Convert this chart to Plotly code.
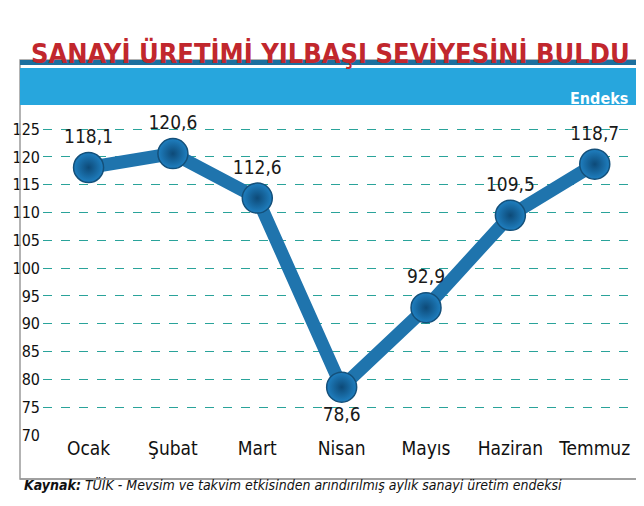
import plotly.graph_objects as go

months = ['Ocak', 'Şubat', 'Mart', 'Nisan', 'Mayıs', 'Haziran', 'Temmuz']
values = [118.1, 120.6, 112.6, 78.6, 92.9, 109.5, 118.7]
labels = ['118,1', '120,6', '112,6', '78,6', '92,9', '109,5', '118,7']
label_pos = ['top center', 'top center', 'top center', 'bottom center',
             'top center', 'top center', 'top center']
yticks = list(range(70, 126, 5))

W, H = 644, 506
L, R, T, B = 35, 10, 100, 79
pw, ph = W - L - R, H - T - B
FONT = 'DejaVu Sans Condensed, Liberation Sans Narrow, sans-serif'


def px_x(p):
    return (p - L) / pw


def px_y(p):
    return (H - B - p) / ph


fig = go.Figure()
fig.add_trace(go.Scatter(
    x=months, y=values, mode='lines+markers+text',
    line=dict(color='#1f74ad', width=13),
    marker=dict(size=30, color='#1f7fc0', line=dict(color='#14507a', width=1.5),
                gradient=dict(type='radial', color='#0d4a78')),
    text=labels, textposition=label_pos,
    textfont=dict(family=FONT, size=19, color='#1a1a1a'),
    cliponaxis=False, hoverinfo='skip'))

shapes = [
    # outer frame
    dict(type='rect', xref='paper', yref='paper', x0=px_x(12), x1=px_x(633),
         y0=px_y(471), y1=px_y(52), line=dict(color='#9a9a9a', width=1.5)),
    # header band
    dict(type='rect', xref='paper', yref='paper', x0=px_x(12), x1=px_x(633),
         y0=px_y(97), y1=px_y(60), fillcolor='#27a6dd', line_width=0),
    dict(type='rect', xref='paper', yref='paper', x0=px_x(12), x1=px_x(633),
         y0=px_y(57), y1=px_y(52), fillcolor='#1c6f9f', line_width=0),
    # source separator
    dict(type='line', xref='paper', yref='paper', x0=px_x(12), x1=px_x(633),
         y0=px_y(471), y1=px_y(471), line=dict(color='#9a9a9a', width=1.5)),
]

annotations = [
    dict(text='<b>SANAYİ ÜRETİMİ YILBAŞI SEVİYESİNİ BULDU</b>', xref='paper', yref='paper',
         x=px_x(322), y=px_y(27), showarrow=False,
         font=dict(family=FONT, size=27, color='#c1272d')),
    dict(text='<b>Endeks</b>', xref='paper', yref='paper', x=px_x(622), y=px_y(79),
         xanchor='right', showarrow=False, font=dict(family=FONT, size=16, color='white')),
    dict(text='<b><i>Kaynak:</i></b><i> TÜİK - Mevsim ve takvim etkisinden arındırılmış aylık sanayi üretim endeksi</i>',
         xref='paper', yref='paper', x=px_x(14), y=px_y(487), xanchor='left', showarrow=False,
         font=dict(family=FONT, size=14, color='#111')),
]

fig.update_layout(
    width=W, height=H, margin=dict(l=L, r=R, t=T, b=B, autoexpand=False),
    paper_bgcolor='white', plot_bgcolor='white', showlegend=False,
    shapes=shapes, annotations=annotations,
    font=dict(family=FONT, color='#111'),
)
fig.update_xaxes(range=[-0.54, 6.56], showgrid=False, zeroline=False, showline=False,
                 ticks='', tickfont=dict(family=FONT, size=19), fixedrange=True,
                 automargin=False)
fig.update_yaxes(range=[70, 128.8], tickvals=yticks, showgrid=True, griddash='dash',
                 gridcolor='#2aa39a', gridwidth=1, zeroline=False, showline=False,
                 ticks='', tickfont=dict(family=FONT, size=16), ticklabelstandoff=2,
                 fixedrange=True, automargin=False)

fig.write_html('out.html')
